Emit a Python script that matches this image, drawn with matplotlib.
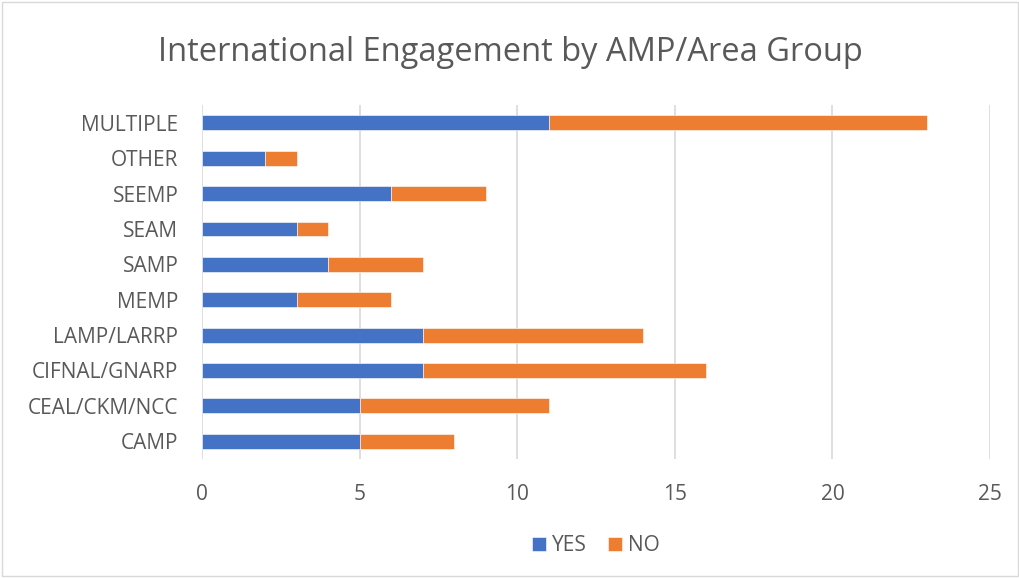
import numpy as np
import matplotlib
matplotlib.use("Agg")
import matplotlib.pyplot as plt

# categories bottom to top
groups = ["CAMP", "CEAL/CKM/NCC", "CIFNAL/GNARP", "LAMP/LARRP", "MEMP",
          "SAMP", "SEAM", "SEEMP", "OTHER", "MULTIPLE"]
yes = [5, 5, 7, 7, 3, 4, 3, 6, 2, 11]
no = [3, 6, 9, 7, 3, 3, 1, 3, 1, 12]
xticks = [0, 5, 10, 15, 20, 25]

plt.rcParams['font.family'] = ['Open Sans', 'DejaVu Sans']
text_col = '#595959'

fig = plt.figure(figsize=(10.2, 5.78), dpi=100)
ax = fig.add_axes([0.198, 0.206, 0.7726, 0.612])

y = np.arange(len(groups))
ax.barh(y, yes, height=0.42, color='#4472C4', edgecolor='white', linewidth=0.4, label='YES', zorder=3)
ax.barh(y, no, left=yes, height=0.42, color='#ED7D31', edgecolor='white', linewidth=0.4, label='NO', zorder=3)

ax.set_xlim(0, 25)
ax.set_ylim(-0.5, len(groups) - 0.5)
ax.set_xticks(xticks)
ax.set_yticks(y)
ax.set_yticklabels(groups)
ax.grid(axis='x', color='#D9D9D9', linewidth=1.2, zorder=0)
for s in ax.spines.values():
    s.set_visible(False)
ax.tick_params(length=0, labelsize=15, colors=text_col)
ax.tick_params(axis='y', pad=17)
ax.tick_params(axis='x', pad=18)

fig.suptitle('International Engagement by AMP/Area Group', fontsize=23.5, color=text_col, y=0.937)

ax.legend(loc='center', bbox_to_anchor=(0.5, -0.245), ncol=2, frameon=False,
          fontsize=15, labelcolor=text_col, handlelength=0.65, handleheight=0.65,
          columnspacing=1.0, handletextpad=0.3)

fig.patches.append(plt.Rectangle((0.002, 0.003), 0.996, 0.994, transform=fig.transFigure,
                                 fill=False, edgecolor='#D9D9D9', linewidth=1))

fig.savefig('out.png', dpi=100)
